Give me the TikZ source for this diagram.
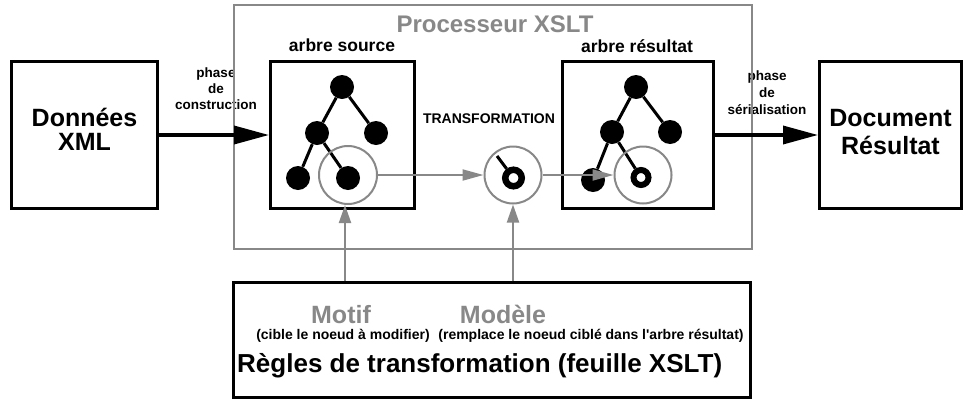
\documentclass[tikz,border=0pt]{standalone}
\usepackage{fontspec}
\setmainfont[Ligatures=TeXOff]{Liberation Sans}
\usetikzlibrary{arrows.meta}
\definecolor{mygray}{RGB}{136,136,136}
\begin{document}
\begin{tikzpicture}[x=1pt,y=-1pt,
  box/.style={draw=black, line width=3pt, inner sep=0pt, rectangle},
  dot/.style={circle, fill=black, inner sep=0pt, minimum size=24pt},
  ring/.style={circle, draw=black, fill=white, line width=6.5pt, inner sep=0pt, minimum size=16.5pt},
  halo/.style={circle, draw=mygray, line width=2pt, inner sep=0pt},
  edge/.style={line width=3pt, draw=black},
  bigarrow/.style={line width=3.5pt, draw=black, -{Triangle[length=35pt,width=18pt]}},
  grayline/.style={draw=mygray, line width=2pt},
  hgray/.style={grayline, -{Triangle[length=21pt,width=11pt]}},
  vgray/.style={grayline, -{Triangle[length=18pt,width=12pt]}},
  txt/.style={inner sep=0pt, anchor=base},
  bigtxt/.style={txt, font=\fontsize{25}{25}\selectfont\bfseries},
  titletxt/.style={txt, text=mygray, font=\fontsize{24}{24}\selectfont\bfseries},
  labtxt/.style={txt, font=\fontsize{17.5}{17.5}\selectfont\bfseries},
  phasetxt/.style={txt, font=\fontsize{13.5}{13.5}\selectfont\bfseries},
  graybig/.style={txt, text=mygray, font=\fontsize{25}{25}\selectfont\bfseries},
  smalltxt/.style={txt, font=\fontsize{14}{14}\selectfont\bfseries},
  rulestxt/.style={inner sep=0pt, anchor=base west, font=\fontsize{26}{26}\selectfont\bfseries}
]
\useasboundingbox (0,0) rectangle (965,402);

% phase labels
\node[phasetxt] (pc1) at (216,77) {phase};
\node[phasetxt] (pc2) at (216,93) {de};
\node[phasetxt] (pc3) at (216,109) {construction};
\node[phasetxt] (ps1) at (767,80) {phase};
\node[phasetxt] (ps2) at (767,97) {de};
\node[phasetxt] (ps3) at (767,114) {sérialisation};

% processor box
\node[draw=mygray, line width=2pt, inner sep=0pt, minimum width=518pt, minimum height=244pt] (proc) at (493,127) {};
\node[titletxt] (proct) at (495,32) {Processeur XSLT};

% main boxes
\node[box, minimum width=146pt, minimum height=147pt] (donnees) at (84.5,135) {};
\node[box, minimum width=144pt, minimum height=147pt] (source) at (342.5,135) {};
\node[box, minimum width=151pt, minimum height=147pt] (result) at (638,135) {};
\node[box, minimum width=142pt, minimum height=147pt] (document) at (890.5,135) {};
\node[draw=black, line width=2.5pt, inner sep=0pt, minimum width=517pt, minimum height=115pt] (regles) at (492,340) {};

% box texts
\node[bigtxt] (d1) at (84.5,126) {Données};
\node[bigtxt] (d2) at (84.5,150) {XML};
\node[bigtxt] (r1) at (890.5,126) {Document};
\node[bigtxt] (r2) at (890.5,154) {Résultat};
\node[labtxt] (as) at (342,51) {arbre source};
\node[labtxt] (ar) at (637,52) {arbre résultat};
\node[txt, font=\fontsize{14}{14}\selectfont\bfseries] (tr) at (489,123) {TRANSFORMATION};

% big arrows
\draw[bigarrow] (donnees.east) -- (source.west);
\draw[bigarrow] (result.east) -- (document.west);

% source tree
\node[dot] (s1) at (342,87) {};
\node[dot] (s2) at (317,133) {};
\node[dot] (s3) at (376,133) {};
\node[dot] (s4) at (298,178) {};
\node[dot] (s5) at (348,178) {};
\draw[edge] (s1) -- (s2);
\draw[edge] (s1) -- (s3);
\draw[edge] (s2) -- (s4);
\draw[edge] (s2) -- (s5);

% result tree
\node[dot] (t1) at (636,87) {};
\node[dot] (t2) at (612,132) {};
\node[dot] (t3) at (670,132) {};
\node[dot] (t4) at (593,180) {};
\node[ring, minimum size=15pt, line width=6pt] (t5) at (641,177.5) {};
\draw[edge] (t1) -- (t2);
\draw[edge] (t1) -- (t3);
\draw[edge] (t2) -- (t4);
\draw[edge] (t2) -- (t5);

% middle ring with stick
\node[ring] (mring) at (513.5,178) {};
\coordinate (stick) at (497,156);
\draw[edge] (stick) -- (mring);

% gray halos
\node[halo, minimum size=58pt] (srcc) at (348,175) {};
\node[halo, minimum size=57pt] (midc) at (513,175) {};
\node[halo, minimum size=57pt] (resc) at (643,175) {};

% gray arrows
\draw[hgray] (srcc) -- (midc);
\draw[hgray] (midc) -- (resc);
\coordinate (mo) at (345,0);
\coordinate (md) at (513,0);
\draw[vgray] (mo |- regles.north) -- (mo |- srcc.south);
\draw[vgray] (md |- regles.north) -- (md |- midc.south);

% rules box texts
\node[graybig] (motif) at (341,323) {Motif};
\node[graybig] (modele) at (503,323) {Modèle};
\node[smalltxt] (c1) at (343,339) {(cible le noeud à modifier)};
\node[smalltxt] (c2) at (591,339) {(remplace le noeud ciblé dans l'arbre résultat)};
\node[rulestxt] (rg) at (237,372) {Règles de transformation (feuille XSLT)};
\end{tikzpicture}
\end{document}
